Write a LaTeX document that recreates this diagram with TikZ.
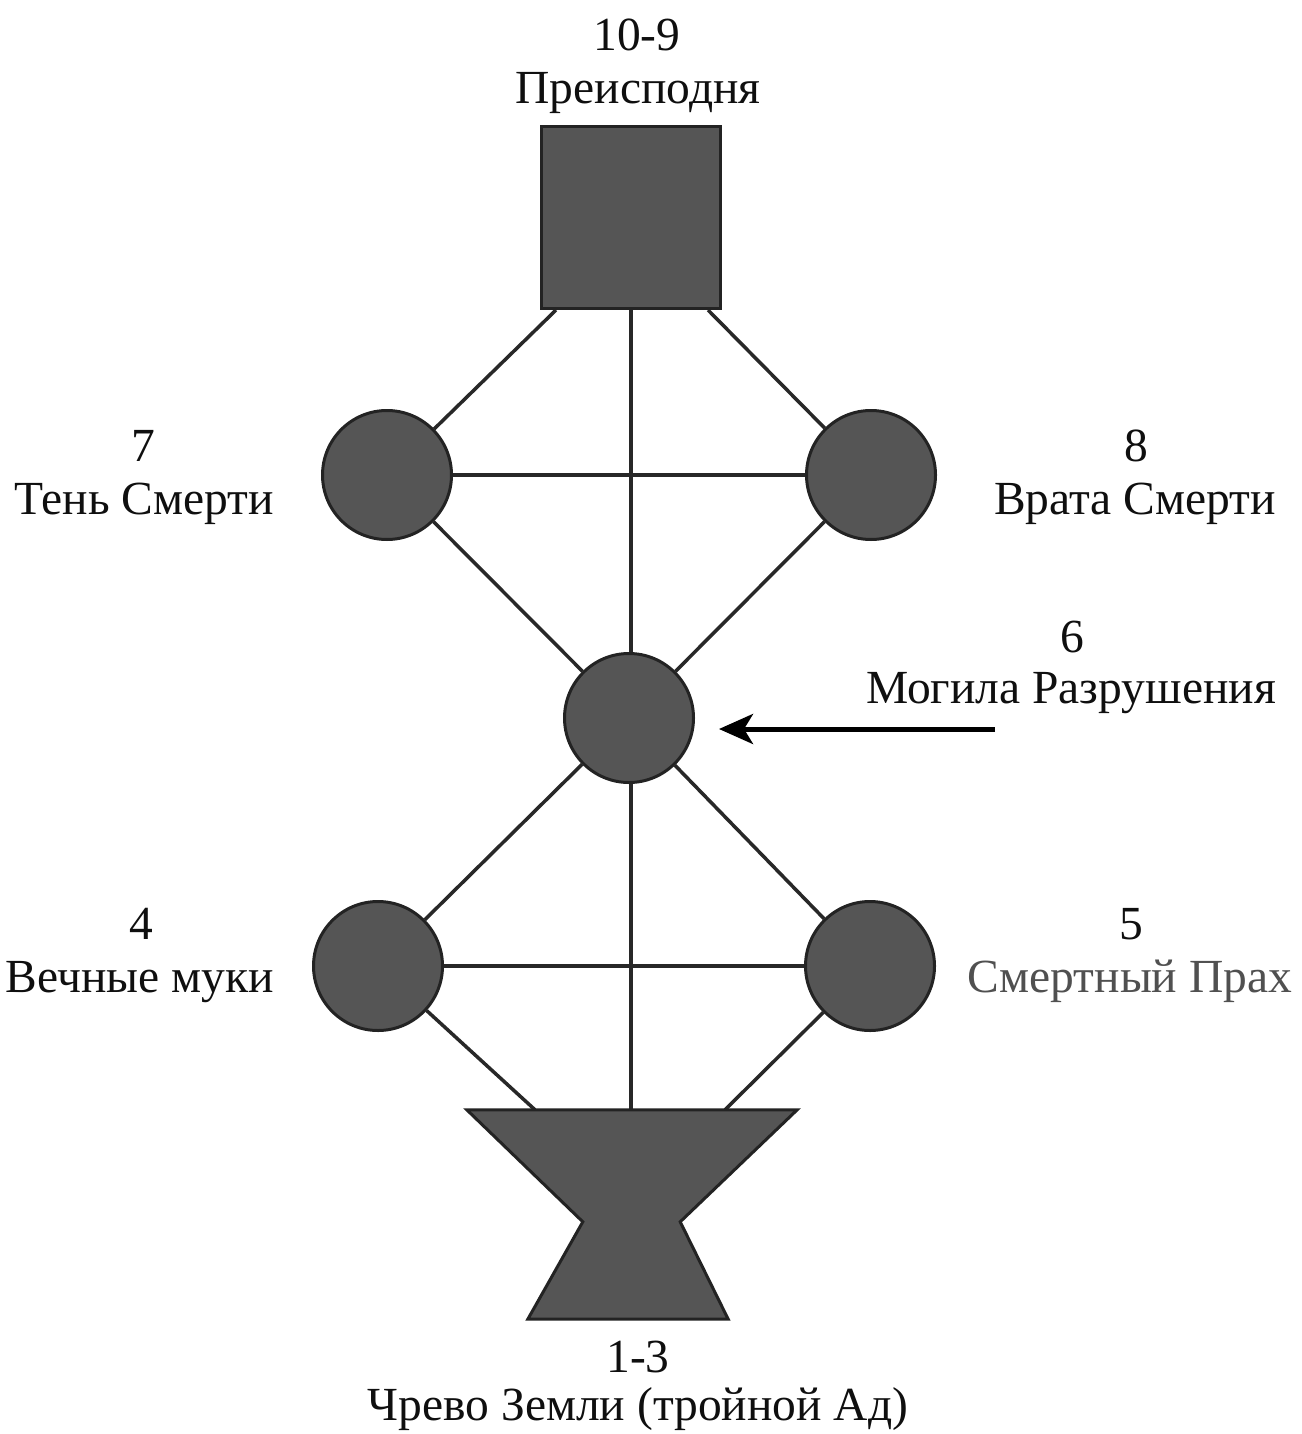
\documentclass[tikz,border=0pt]{standalone}
\usepackage{fontspec}
\setmainfont{Liberation Serif}
\usetikzlibrary{arrows.meta,backgrounds,calc}
\definecolor{shapefill}{RGB}{85,85,85}
\definecolor{shapeline}{RGB}{35,35,35}
\definecolor{connline}{RGB}{40,40,40}
\definecolor{labeltext}{RGB}{15,15,15}
\definecolor{graytext}{RGB}{80,80,80}
\tikzset{
  shapebase/.style={fill=shapefill, draw=shapeline, line width=3pt, line join=miter},
  circ/.style={shapebase, circle, minimum size=129pt, inner sep=0pt},
  sqbox/.style={shapebase, rectangle, minimum width=179pt, minimum height=182pt, inner sep=0pt},
  conn/.style={draw=connline, line width=3.5pt},
  lbl/.style={anchor=base, inner sep=0pt, text=labeltext, font=\fontsize{47.5}{56}\selectfont},
  ptr/.style={draw=black, line width=5pt, -{Stealth[length=34pt,width=30pt,inset=9pt]}},
}
\begin{document}
\begin{tikzpicture}[x=1pt,y=-1pt]
\useasboundingbox (0,0) rectangle (1301,1434);
% shapes
\node[sqbox] (sq) at (631,217.5) {};
\node[circ] (c7) at (387,475) {};
\node[circ] (c8) at (871,475) {};
\node[circ] (c6) at (629,718) {};
\node[circ] (c4) at (378,966) {};
\node[circ] (c5) at (870,966) {};
\node[inner sep=0pt, minimum width=330pt, minimum height=209pt] (cup) at (632,1214.5) {};
\filldraw[shapebase] (cup.north west) -- (cup.north east)
  -- ($(cup.north east)+(-117,112)$) -- ($(cup.south east)+(-69,0)$)
  -- ($(cup.south west)+(61,0)$) -- ($(cup.north west)+(116,112)$) -- cycle;
% labels
\node[lbl] (l10n) at (637,51) {10-9};
\node[lbl] (l10) at (638,104) {Преисподня};
\node[lbl] (l7n) at (143,461) {7};
\node[lbl] (l7) at (144,514) {Тень Смерти};
\node[lbl] (l8n) at (1136,461) {8};
\node[lbl] (l8) at (1135,514) {Врата Смерти};
\node[lbl] (l6n) at (1072,652) {6};
\node[lbl] (l6) at (1071,703) {Могила Разрушения};
\node[lbl] (l4n) at (141,939) {4};
\node[lbl] (l4) at (140,992) {Вечные муки};
\node[lbl] (l5n) at (1131,939) {5};
\node[lbl, text=graytext] (l5) at (1130,992) {Смертный Прах};
\node[lbl] (l1n) at (638,1372) {1-3};
\node[lbl] (l1) at (638,1420) {Чрево Земли (тройной Ад)};
% arrow
\coordinate (ar) at (995,729);
\draw[ptr] (ar) -- ([xshift=24pt]ar -| c6.east);
% connectors
\begin{scope}[on background layer]
  \fill[white] (0,0) rectangle (1301,1434);
  \draw[conn] ([xshift=16pt]sq.south west) -- (c7);
  \draw[conn] ([xshift=-14pt]sq.south east) -- (c8);
  \draw[conn] (sq.south) -- (sq.south |- cup.north);
  \draw[conn] (c7) -- (c8);
  \draw[conn] (c7) -- (c6);
  \draw[conn] (c8) -- (c6);
  \draw[conn] (c6) -- (c4);
  \draw[conn] (c6) -- (c5);
  \draw[conn] (c4) -- (c5);
  \draw[conn] (c4) -- ([xshift=-97pt]cup.north);
  \draw[conn] (c5) -- ([xshift=93pt]cup.north);
\end{scope}
\end{tikzpicture}
\end{document}
